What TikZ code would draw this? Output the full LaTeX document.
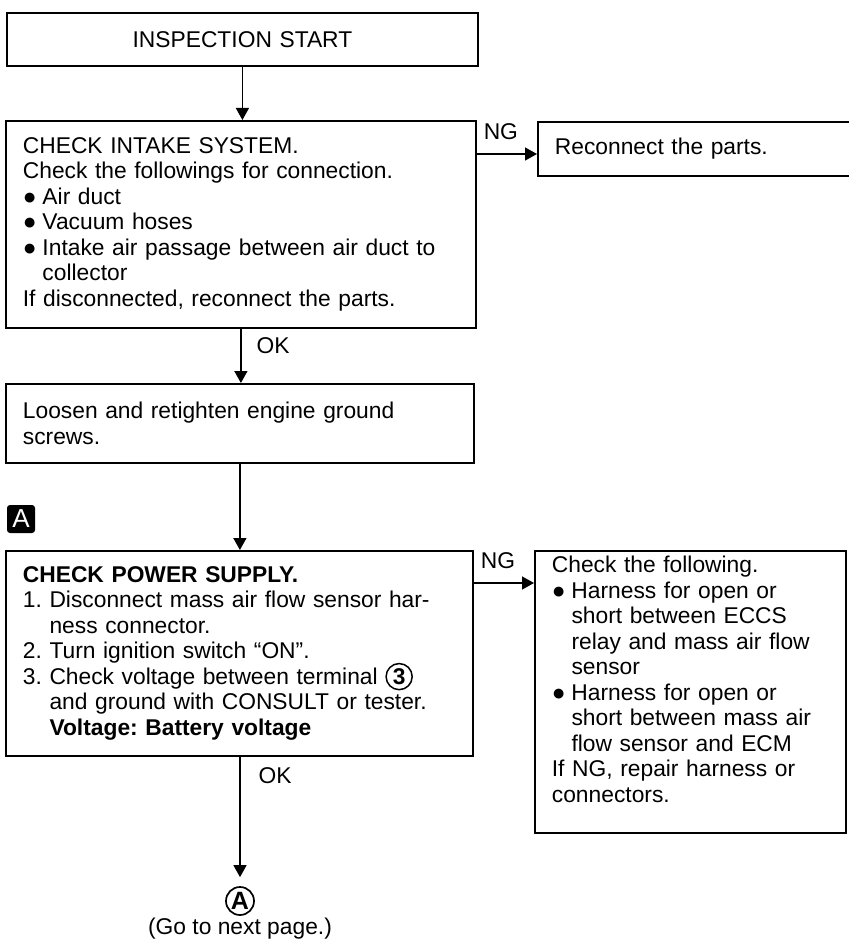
\documentclass[tikz,border=0pt]{standalone}
\usepackage{fontspec}
\setmainfont{Liberation Sans}
\usetikzlibrary{arrows.meta,positioning}

\newlength\bltw
\setlength\bltw{9.8pt}
\newcommand\blt{\makebox[\bltw][l]{●}}
\newcommand\hang{\hspace*{\bltw}}
\newcommand\circnum[1]{\smash{\tikz[baseline=(cn.base)]\node[draw, circle, text width={}, minimum width=0pt, minimum height=0pt, anchor=center, inner sep=1pt, line width=0.75pt, font=\bfseries](cn){#1};}}

\begin{document}
\frenchspacing
\begin{tikzpicture}[
x=0.5pt, y=-0.5pt,
font=\fontsize{11.4pt}{12.75pt}\selectfont,
box/.style={draw, rectangle, line width=0.9pt, anchor=north west, align=left, inner xsep=8.5pt, inner ysep=0pt},
arrow/.style={-{Triangle[length=6pt,width=6.5pt]}, line width=0.7pt},
lbl/.style={inner sep=0pt}
]

\useasboundingbox (0,0) rectangle (848,941);

\node (start) [box, align=center, text width=218.5pt, minimum height=26.5pt] at (6,12) {INSPECTION START};

\node (chkintake) [box, text width=218pt, minimum height=103.5pt] at (5,120) {CHECK INTAKE SYSTEM.\\
Check the followings for connection.\\
\blt Air duct\\
\blt Vacuum hoses\\
\blt Intake air passage between air duct to\\
\hang collector\\
If disconnected, reconnect the parts.};

\node (reconnect) [box, text width=139.5pt, minimum height=27pt] at (537,121) {Reconnect the parts.};

\node (ground) [box, text width=217pt, minimum height=39.5pt] at (5,383) {Loosen and retighten engine ground\\
screws.};

\node (secA) [lbl, fill=black, text=white, rounded corners=1.5pt, minimum size=14pt, font=\fontsize{13pt}{13pt}\selectfont] at (21,519) {A};

\node (chkpower) [box, text width=216.5pt, minimum height=102.5pt] at (5,550) {\textbf{CHECK POWER SUPPLY.}\\
1. Disconnect mass air flow sensor har-\\
\hphantom{1. }ness connector.\\
2. Turn ignition switch “ON”.\\
3. Check voltage between terminal \circnum{3}\\
\hphantom{3. }and ground with CONSULT or tester.\\
\hphantom{3. }\textbf{Voltage: Battery voltage}};

\node (harness) [box, text width=138.5pt, minimum height=141pt] at (534,550) {Check the following.\\
\blt Harness for open or\\
\hang short between ECCS\\
\hang relay and mass air flow\\
\hang sensor\\
\blt Harness for open or\\
\hang short between mass air\\
\hang flow sensor and ECM\\
If NG, repair harness or\\
connectors.\\
\mbox{}};

\node (goA) [draw, circle, line width=0.85pt, minimum size=14pt, inner sep=0pt, font=\bfseries\fontsize{12.5pt}{13pt}\selectfont] at (240,901) {A};
\node (nextpage) [lbl, below=1pt of goA] {(Go to next page.)};

\draw[arrow] (start.south) -- (start.south |- chkintake.north);
\draw[arrow] ([yshift=-17pt]chkintake.north east) -- ([yshift=-17pt]chkintake.north east -| reconnect.west) node[lbl, pos=0.4, above=7pt] {NG};
\draw[arrow] (chkintake.south) -- (chkintake.south |- ground.north) node[lbl, at start, anchor=north west, xshift=7.5pt, yshift=-4pt] {OK};
\draw[arrow] (ground.south) -- (ground.south |- chkpower.north);
\draw[arrow] ([yshift=-16.5pt]chkpower.north east) -- ([yshift=-16.5pt]chkpower.north east -| harness.west) node[lbl, pos=0.4, above=7pt] {NG};
\draw[arrow, shorten >=4.5pt] (chkpower.south -| goA) -- (goA.north) node[lbl, at start, anchor=north west, xshift=9pt, yshift=-5pt] {OK};

\end{tikzpicture}
\end{document}
